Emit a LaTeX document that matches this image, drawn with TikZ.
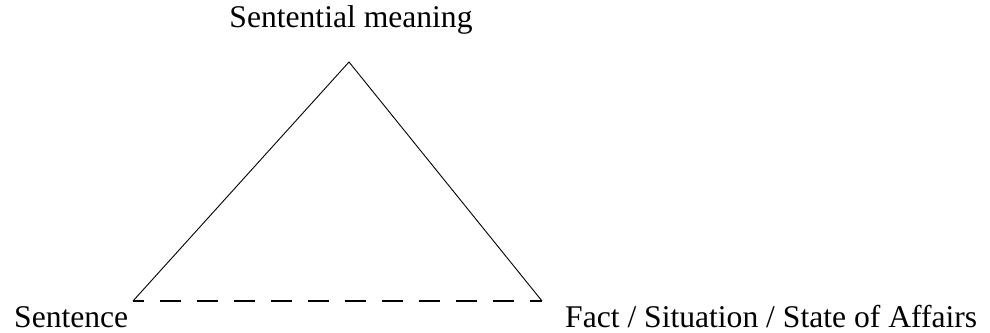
\documentclass[tikz,border=0pt]{standalone}
\usepackage{fontspec}
\setmainfont{Liberation Serif}
\usepackage{tikz}
\usetikzlibrary{positioning}

\begin{document}
\begin{tikzpicture}[x=1pt, y=1pt,
  lbl/.style={inner sep=0pt, font=\fontsize{31.6}{36}\selectfont},
  side/.style={line width=0.9pt},
  gap/.style={line width=1.7pt, dash pattern=on 21pt off 16pt, dash phase=10.3pt}]
\useasboundingbox (0,0) rectangle (990,332);
\coordinate (top) at (349,270);
\coordinate (left) at (133,31);
\coordinate (right) at (542,31);
\node[lbl, anchor=base] (meaning) at (351,304) {Sentential meaning};
\node[lbl, anchor=base west] (sentence) at (14,5) {Sentence};
\node[lbl, anchor=base west] (fact) at (565,5) {Fact / Situation / State of Affairs};
\draw[side] (left) -- (top) -- (right);
\draw[gap] (left) -- (right);
\end{tikzpicture}
\end{document}
